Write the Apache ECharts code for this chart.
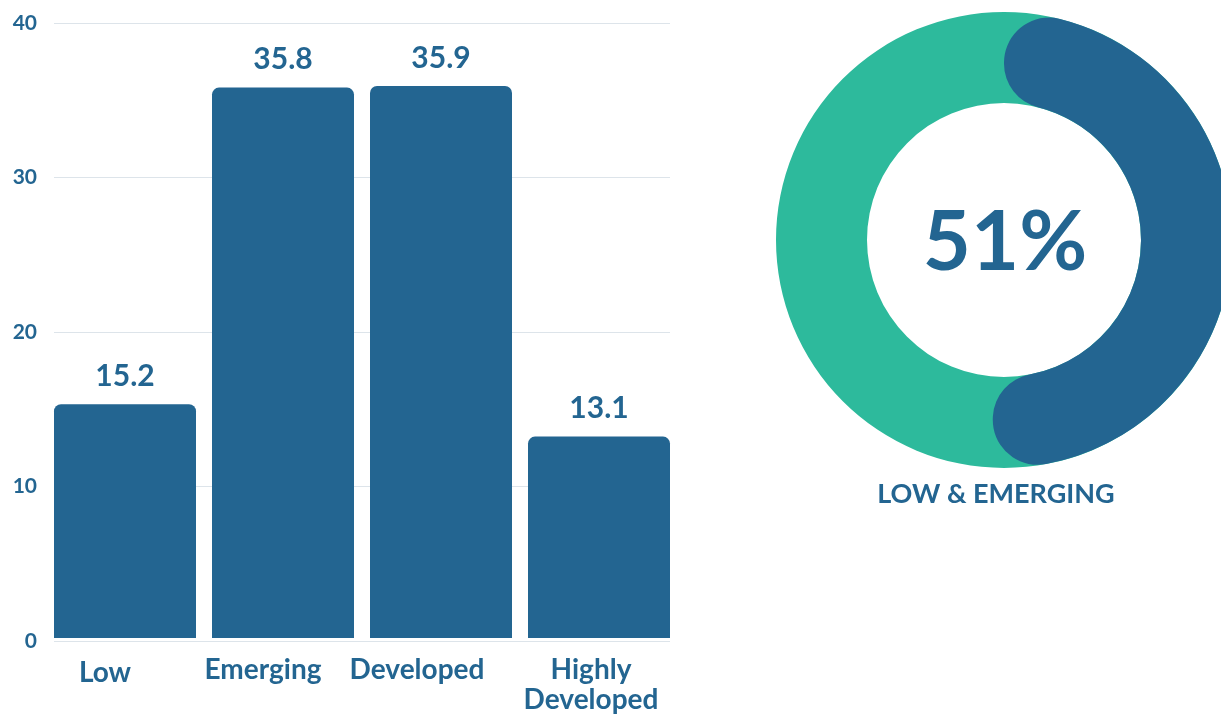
<!DOCTYPE html>
<html>
<head>
<meta charset="utf-8">
<script src="https://cdn.jsdelivr.net/npm/echarts@6/dist/echarts.min.js"></script>
<style>
  html, body { margin: 0; padding: 0; background: #ffffff; }
  #chart { width: 1221px; height: 714px; }
</style>
</head>
<body>
<div id="chart"></div>
<script>
// Development levels and their share values
const categories = ['Low', 'Emerging', 'Developed', 'Highly\nDeveloped'];
const values = [15.2, 35.8, 35.9, 13.1];
const yTicks = [0, 10, 20, 30, 40];

// Combined share of the two lower levels
const shareValue = 51;
const shareRest = 100 - shareValue;
const shareLabel = '51%';
const shareCaption = 'LOW & EMERGING';

const BLUE = '#236591';
const TEAL = '#2dba9c';
const GRID_LINE = '#dde4ea';
const FONT = 'Lato';

// per-category horizontal nudge of the axis labels (px, negative = left)
const labelShift = [-20, -20, -24, -8];
const labelKeys = ['c0', 'c1', 'c2', 'c3'];
const rich = {};
labelKeys.forEach((k, i) => {
  const s = labelShift[i];
  rich[k] = {
    fontFamily: FONT, fontWeight: 'bold', fontSize: 28, color: BLUE,
    lineHeight: 30,
    padding: [i === 0 ? 6 : 0, s < 0 ? -2 * s : 0, 0, s > 0 ? 2 * s : 0]
  };
});

const yMin = yTicks[0];
const yMax = yTicks[yTicks.length - 1];

const chart = echarts.init(document.getElementById('chart'), null, { renderer: 'canvas' });

chart.setOption({
  animation: false,
  backgroundColor: '#ffffff',
  grid: [
    // grid 0: gridlines and value ticks
    { left: 54, right: 551, top: 23, bottom: 73 },
    // grid 1: the bars, whose outer edges sit flush with the gridline ends
    { left: 46, right: 543, top: 23, bottom: 73 }
  ],
  xAxis: [
    {
      gridIndex: 0, type: 'category', data: categories,
      axisLine: { show: false }, axisTick: { show: false }, axisLabel: { show: false }
    },
    {
      gridIndex: 1, type: 'category', data: categories,
      axisLine: { show: false },
      axisTick: { show: false },
      axisLabel: {
        interval: 0,
        margin: 17,
        formatter: function (val, idx) {
          return val.split('\n').map(line => '{' + labelKeys[idx] + '|' + line + '}').join('\n');
        },
        rich: rich
      }
    }
  ],
  yAxis: [
    {
      gridIndex: 0, type: 'value', min: yMin, max: yMax, interval: 10,
      axisLine: { show: false },
      axisTick: { show: false },
      splitLine: { lineStyle: { color: GRID_LINE, width: 1 } },
      axisLabel: { margin: 17, fontFamily: FONT, fontWeight: 'bold', fontSize: 21, color: BLUE }
    },
    {
      gridIndex: 1, type: 'value', min: yMin, max: yMax, interval: 10,
      axisLine: { show: false }, axisTick: { show: false },
      splitLine: { show: false }, axisLabel: { show: false }
    }
  ],
  series: [
    {
      type: 'bar',
      xAxisIndex: 1,
      yAxisIndex: 1,
      data: values,
      barWidth: 142,
      itemStyle: { color: BLUE, borderRadius: [7, 7, 0, 0] },
      label: {
        show: true,
        position: 'top',
        distance: 13,
        fontFamily: FONT, fontWeight: 'bold', fontSize: 30, color: BLUE,
        formatter: p => p.value.toFixed(1)
      }
    },
    {
      // full teal ring behind the highlighted arc
      type: 'pie',
      center: [1004, 240],
      radius: [137, 228],
      silent: true,
      label: { show: false },
      labelLine: { show: false },
      data: [{ value: 100, itemStyle: { color: TEAL } }],
      z: 1
    },
    {
      type: 'pie',
      center: [1004, 240],
      radius: [137, 228],
      startAngle: 90,
      clockwise: true,
      silent: true,
      label: { show: false },
      labelLine: { show: false },
      data: [
        { value: shareValue, itemStyle: { color: BLUE, borderRadius: 45 } },
        { value: shareRest, itemStyle: { color: 'rgba(0,0,0,0)' } }
      ],
      z: 2
    }
  ],
  graphic: [
    {
      type: 'text',
      x: 1005, y: 243,
      style: {
        text: shareLabel,
        align: 'center', verticalAlign: 'middle',
        fontFamily: FONT, fontWeight: 'bold', fontSize: 83, fill: BLUE
      },
      z: 10
    },
    {
      type: 'text',
      x: 996, y: 494,
      style: {
        text: shareCaption,
        align: 'center', verticalAlign: 'middle',
        fontFamily: FONT, fontWeight: 'bold', fontSize: 27, fill: BLUE
      },
      z: 10
    }
  ]
});
</script>
</body>
</html>
